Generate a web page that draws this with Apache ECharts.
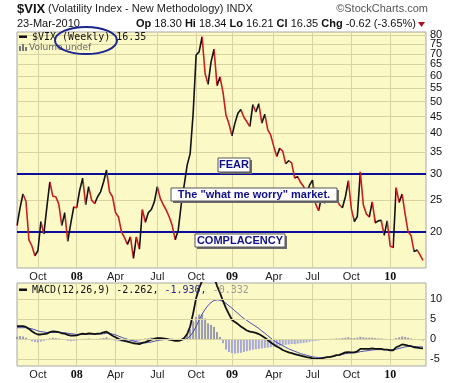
<!DOCTYPE html>
<html>
<head>
<meta charset="utf-8">
<script src="https://cdn.jsdelivr.net/npm/echarts@6/dist/echarts.min.js"></script>
<style>
html, body { margin: 0; padding: 0; background: #fff; }
#chart { width: 461px; height: 383px; }
</style>
</head>
<body>
<div id="chart"></div>
<script>
// weekly closes of $VIX, week ending 17-Aug-2007 .. 23-Mar-2010
var vixClose = [20.9,23.6,26.1,24.8,18.9,18.1,16.9,17.5,21.5,19.7,
  23.8,28.4,25.7,25.6,24.3,20.9,22.9,18.7,21.2,23.8,
  23.7,26.8,29.2,24.2,27.5,25.0,24.4,25.6,26.5,28.4,
  30.9,26.5,25.6,22.9,22.2,20.0,19.2,18.3,19.3,16.6,
  19.3,17.7,23.4,21.4,22.9,23.4,24.7,27.5,25.3,24.2,
  23.3,22.2,20.9,18.9,20.2,24.2,27.8,32.0,34.7,46.0,
  69.5,71.0,79.0,61.0,56.5,66.2,72.4,56.0,59.5,53.5,
  45.5,42.8,39.3,43.0,46.1,47.3,44.8,43.4,42.0,49.0,
  46.5,49.3,43.0,45.8,41.0,39.5,36.5,34.0,36.0,35.3,
  32.3,33.0,32.5,29.2,29.5,28.3,27.5,26.0,27.8,28.8,
  24.4,23.2,25.5,24.5,25.0,25.0,24.8,25.3,24.2,23.7,
  25.6,28.7,23.5,21.5,22.3,30.5,24.2,22.7,22.2,24.7,
  21.3,21.6,21.7,19.5,21.6,18.1,17.9,27.3,24.6,26.1,
  22.7,20.0,19.5,17.4,17.6,17.0,16.35];

// MACD(12,26,9)
var macdLine = [3.3,3.3,3.3,3.1,2.6,2.0,1.5,1.2,1.2,1.3,
  1.4,1.8,2.0,1.9,1.8,1.5,1.4,1.1,0.9,0.9,
  1.0,1.2,1.4,1.3,1.5,1.4,1.3,1.4,1.5,1.7,
  1.9,1.4,0.9,0.5,0.1,-0.2,-0.4,-0.6,-0.8,-1.0,
  -1.1,-1.2,-0.9,-0.7,-0.4,-0.1,0.1,0.3,0.3,0.2,
  0.1,-0.1,-0.2,-0.4,-0.4,-0.2,0.3,1.3,3.2,6.5,
  10.3,12.8,14.6,15.3,15.0,15.2,15.6,13.4,11.6,9.6,
  7.8,6.3,4.9,4.3,3.8,3.2,2.7,2.2,1.9,1.8,
  1.6,1.3,0.9,0.4,-0.2,-0.8,-1.3,-1.8,-2.2,-2.7,
  -3.0,-3.3,-3.5,-3.7,-3.9,-4.1,-4.3,-4.5,-4.6,-4.8,
  -4.9,-4.9,-4.8,-4.6,-4.5,-4.4,-4.2,-4.0,-3.9,-3.6,
  -3.3,-3.2,-3.3,-3.3,-3.0,-2.4,-2.4,-2.4,-2.4,-2.3,
  -2.4,-2.4,-2.4,-2.6,-2.6,-2.8,-2.8,-2.0,-1.7,-1.3,
  -1.4,-1.6,-1.7,-2.0,-2.1,-2.2,-2.26];
var signalLine = [2.9,2.9,2.9,2.9,2.8,2.6,2.4,2.1,1.9,1.8,
  1.7,1.7,1.7,1.7,1.7,1.7,1.6,1.5,1.4,1.3,
  1.2,1.2,1.2,1.2,1.3,1.3,1.3,1.3,1.3,1.4,
  1.5,1.5,1.3,1.1,0.8,0.5,0.2,0.0,-0.2,-0.4,
  -0.6,-0.8,-0.9,-0.9,-0.8,-0.7,-0.5,-0.3,-0.2,-0.1,
  0.0,0.0,0.0,-0.1,-0.2,-0.2,-0.1,0.2,0.8,1.8,
  3.2,4.8,6.3,7.5,8.5,9.2,9.7,9.9,9.8,9.5,
  9.0,8.4,7.8,7.1,6.5,5.8,5.2,4.7,4.2,3.7,
  3.2,2.7,2.1,1.5,0.9,0.3,-0.3,-0.8,-1.2,-1.6,
  -2.0,-2.4,-2.7,-3.0,-3.3,-3.6,-3.8,-4.0,-4.2,-4.4,
  -4.5,-4.6,-4.6,-4.6,-4.5,-4.4,-4.3,-4.1,-4.0,-3.8,
  -3.6,-3.5,-3.4,-3.4,-3.3,-3.1,-3.0,-2.9,-2.8,-2.7,
  -2.6,-2.6,-2.6,-2.6,-2.6,-2.6,-2.6,-2.5,-2.3,-2.1,
  -1.9,-1.8,-1.8,-1.8,-1.9,-1.9,-1.93];
var macdHist = [0.6,0.8,0.7,0.4,-0.2,-0.5,-0.7,-0.8,-0.6,-0.4,
  -0.2,0.2,0.4,0.3,0.2,0.0,-0.2,-0.4,-0.5,-0.4,
  -0.3,-0.1,0.1,0.1,0.2,0.1,0.0,0.1,0.2,0.3,
  0.5,0.2,-0.2,-0.4,-0.5,-0.6,-0.6,-0.5,-0.5,-0.6,
  -0.5,-0.4,0.0,0.2,0.3,0.4,0.4,0.5,0.4,0.2,
  0.1,-0.1,-0.2,-0.3,-0.3,-0.1,0.3,1.2,2.5,4.5,
  5.6,6.2,6.3,5.2,4.0,3.6,3.1,1.8,0.6,-1.0,
  -2.6,-3.2,-3.5,-3.6,-3.5,-3.4,-3.2,-3.0,-2.8,-2.6,
  -2.5,-2.4,-2.3,-2.2,-2.1,-2.0,-1.9,-1.8,-1.7,-1.5,
  -1.4,-1.3,-1.2,-1.2,-1.1,-1.0,-0.9,-0.8,-0.6,-0.5,
  -0.4,-0.3,-0.2,-0.1,0.0,0.1,0.1,0.2,0.2,0.3,
  0.4,0.5,0.3,0.3,0.4,0.6,0.5,0.4,0.4,0.4,
  0.3,0.2,0.2,0.1,0.0,-0.1,0.0,0.3,0.5,0.7,
  0.6,0.4,0.2,0.0,-0.1,-0.2,-0.33];

var priceTicks = [20, 25, 30, 35, 40, 45, 50, 55, 60, 65, 70, 75, 80];
var macdTicks = [10, 5, 0, -5];
var zoneLevels = [30, 20];   // fear / complacency
var quarterTicks = [
  ['2007-10-05', 'Oct'], ['2008-01-04', '08'], ['2008-04-04', 'Apr'],
  ['2008-07-11', 'Jul'], ['2008-10-10', 'Oct'], ['2009-01-02', '09'],
  ['2009-04-10', 'Apr'], ['2009-07-10', 'Jul'], ['2009-10-09', 'Oct'],
  ['2010-01-08', '10']
];

var plotBg = '#fbf9c6';
var gridColor = '#d9d3a3';
var upColor = '#111111';
var downColor = '#c81e1e';
var navy = '#10108a';

// weekly categories
var weeks = [];
var t0 = Date.UTC(2007, 7, 17);
for (var i = 0; i < vixClose.length; i++) {
  weeks.push(new Date(t0 + i * 7 * 86400000).toISOString().slice(0, 10));
}
weeks[weeks.length - 1] = '2010-03-23';
weeks.push('');

var tickMap = {};
quarterTicks.forEach(function (t) { tickMap[t[0]] = t[1]; });
function isTick(idx, val) { return tickMap[val] !== undefined; }
function tickFmt(val) {
  var s = tickMap[val];
  if (s === undefined) return '';
  return /^\d/.test(s) ? '{y|' + s + '}' : '{m|' + s + '}';
}

// up weeks black, down weeks red
var pieces = [];
for (var k = 1; k < vixClose.length; k++) {
  var c = vixClose[k] >= vixClose[k - 1] ? upColor : downColor;
  var last = pieces[pieces.length - 1];
  if (last && last.color === c) last.lte = k;
  else pieces.push(k === 1 ? { gte: 0, lte: k, color: c } : { gt: k - 1, lte: k, color: c });
}

function xAxisFor(gi) {
  return {
    type: 'category', gridIndex: gi, data: weeks, boundaryGap: false,
    axisLine: { show: false },
    axisTick: { show: false, interval: isTick },
    axisLabel: {
      interval: isTick, margin: 3, formatter: tickFmt,
      rich: {
        m: { fontFamily: 'Liberation Sans', fontSize: 11, color: '#222' },
        y: { fontFamily: 'Liberation Serif', fontWeight: 'bold', fontSize: 12, color: '#111' }
      }
    },
    splitLine: { show: true, interval: isTick, lineStyle: { color: gridColor, width: 1 } }
  };
}

function levelLines(values, style, showLabel) {
  return {
    silent: true, symbol: ['none', 'none'], animation: false,
    lineStyle: style,
    emphasis: { disabled: true },
    label: {
      show: showLabel, position: 'end', distance: 4,
      fontFamily: 'Liberation Sans', fontSize: 11, color: '#111',
      formatter: function (p) { return p.value; }
    },
    data: values.map(function (v) { return { yAxis: v }; })
  };
}

var monoFont = '10px "DejaVu Sans Mono"';

var chart = echarts.init(document.getElementById('chart'), null, { renderer: 'canvas' });
chart.setOption({
  animation: false,
  grid: [
    { left: 17, right: 35, top: 32, bottom: 115, show: true, backgroundColor: plotBg, borderColor: '#a8a8a8', borderWidth: 1 },
    { left: 17, right: 35, top: 283, bottom: 17, show: true, backgroundColor: plotBg, borderColor: '#a8a8a8', borderWidth: 1 }
  ],
  xAxis: [xAxisFor(0), xAxisFor(1)],
  yAxis: [
    { type: 'log', gridIndex: 0, min: 15.5, max: 81.7, position: 'right',
      axisLine: { show: false }, axisTick: { show: false }, axisLabel: { show: false }, splitLine: { show: false } },
    { type: 'value', gridIndex: 1, min: -6.7, max: 14.1, position: 'right',
      axisLine: { show: false }, axisTick: { show: false }, axisLabel: { show: false }, splitLine: { show: false } }
  ],
  visualMap: {
    type: 'piecewise', show: false, dimension: 0, seriesIndex: 0,
    pieces: pieces, outOfRange: { color: downColor }
  },
  series: [
    {
      name: '$VIX', type: 'line', data: vixClose, xAxisIndex: 0, yAxisIndex: 0,
      showSymbol: false, silent: true, z: 5,
      lineStyle: { width: 1.6 }
    },
    {
      type: 'line', data: [], xAxisIndex: 0, yAxisIndex: 0, z: 1,
      markLine: levelLines(priceTicks, { color: gridColor, width: 1, type: 'solid' }, true)
    },
    {
      type: 'line', data: [], xAxisIndex: 0, yAxisIndex: 0, z: 3,
      markLine: levelLines(zoneLevels, { color: '#0d0d9c', width: 2.2, type: 'solid' }, false)
    },
    {
      type: 'line', data: [], xAxisIndex: 1, yAxisIndex: 1, z: 1,
      markLine: levelLines(macdTicks, { color: gridColor, width: 1, type: 'solid' }, true)
    },
    {
      name: 'Hist', type: 'bar', data: macdHist, xAxisIndex: 1, yAxisIndex: 1,
      barWidth: 2, silent: true, z: 2,
      itemStyle: { color: function (p) { return p.value >= 0 ? '#9a9aae' : '#a7a7da'; } }
    },
    {
      name: 'Signal', type: 'line', data: signalLine, xAxisIndex: 1, yAxisIndex: 1,
      showSymbol: false, silent: true, z: 3,
      lineStyle: { color: '#4a4ab4', width: 1 }
    },
    {
      name: 'MACD', type: 'line', data: macdLine, xAxisIndex: 1, yAxisIndex: 1,
      showSymbol: false, silent: true, z: 4,
      lineStyle: { color: '#111', width: 1.8 }
    }
  ],
  graphic: [
    // header
    { type: 'text', x: 17, y: 9, style: { text: '$VIX', font: 'bold 13px "Liberation Sans"', fill: '#111', textVerticalAlign: 'middle' } },
    { type: 'text', x: 48, y: 9, style: { text: '(Volatility Index - New Methodology) INDX', font: '11px "Liberation Sans"', fill: '#222', textVerticalAlign: 'middle' } },
    { type: 'text', x: 428, y: 9, style: { text: '\u00a9StockCharts.com', font: '11px "Liberation Sans"', fill: '#555', textAlign: 'right', textVerticalAlign: 'middle' } },
    { type: 'text', x: 17, y: 24, style: { text: '23-Mar-2010', font: '11px "Liberation Sans"', fill: '#111', textVerticalAlign: 'middle' } },
    { type: 'text', x: 416, y: 24, style: {
        text: '{b|Op} 18.30 {b|Hi} 18.34 {b|Lo} 16.21 {b|Cl} 16.35 {b|Chg} -0.62 (-3.65%)',
        font: '11px "Liberation Sans"', fill: '#111', textAlign: 'right', textVerticalAlign: 'middle',
        rich: { b: { fontWeight: 'bold', fontSize: 11, fontFamily: 'Liberation Sans', fill: '#111' } }
    } },
    { type: 'polygon', shape: { points: [[418, 22], [425, 22], [421.5, 27]] }, style: { fill: '#b0101e' } },

    // price panel legend
    { type: 'rect', shape: { x: 19, y: 35.5, width: 8, height: 2.5 }, style: { fill: '#111' }, z: 10 },
    { type: 'text', x: 32, y: 37, z: 10, style: { text: '$VIX (Weekly) 16.35', font: monoFont, fill: '#111', textVerticalAlign: 'middle' } },
    { type: 'rect', shape: { x: 19, y: 46, width: 2, height: 5 }, style: { fill: '#777' }, z: 10 },
    { type: 'rect', shape: { x: 22, y: 44, width: 2, height: 7 }, style: { fill: '#777' }, z: 10 },
    { type: 'rect', shape: { x: 25, y: 47, width: 2, height: 4 }, style: { fill: '#777' }, z: 10 },
    { type: 'text', x: 29, y: 48, z: 10, style: { text: 'Volume undef', font: '9px "DejaVu Sans"', fill: '#666', textVerticalAlign: 'middle' } },
    { type: 'ellipse', shape: { cx: 86, cy: 40.5, rx: 31, ry: 13.5 }, style: { fill: 'none', stroke: '#1b2590', lineWidth: 2 }, z: 11 },

    // notes
    { type: 'rect', shape: { x: 220, y: 160, width: 32, height: 14 }, style: { fill: '#6a6a6a' }, z: 12 },
    { type: 'rect', shape: { x: 218, y: 158, width: 32, height: 14 }, style: { fill: '#fff', stroke: '#555', lineWidth: 1 }, z: 13 },
    { type: 'text', x: 234, y: 165, z: 14, style: { text: 'FEAR', font: 'bold 11px "Liberation Sans"', fill: navy, textAlign: 'center', textVerticalAlign: 'middle' } },

    { type: 'rect', shape: { x: 173, y: 190, width: 166, height: 13 }, style: { fill: '#6a6a6a' }, z: 12 },
    { type: 'rect', shape: { x: 171, y: 188, width: 166, height: 13 }, style: { fill: '#fff', stroke: '#555', lineWidth: 1 }, z: 13 },
    { type: 'text', x: 254, y: 194.5, z: 14, style: { text: 'The "what me worry" market.', font: 'bold 11px "Liberation Sans"', fill: navy, textAlign: 'center', textVerticalAlign: 'middle' } },

    { type: 'rect', shape: { x: 197, y: 236, width: 90, height: 13 }, style: { fill: '#6a6a6a' }, z: 12 },
    { type: 'rect', shape: { x: 195, y: 234, width: 90, height: 13 }, style: { fill: '#fff', stroke: '#555', lineWidth: 1 }, z: 13 },
    { type: 'text', x: 240, y: 240.5, z: 14, style: { text: 'COMPLACENCY', font: 'bold 11px "Liberation Sans"', fill: navy, textAlign: 'center', textVerticalAlign: 'middle' } },

    // MACD legend
    { type: 'rect', shape: { x: 19, y: 288.5, width: 8, height: 2.5 }, style: { fill: '#111' }, z: 10 },
    { type: 'text', x: 32, y: 290, z: 10, style: {
        text: 'MACD(12,26,9) -2.262, {s|-1.930,} {h|-0.332}',
        font: monoFont, fill: '#111', textVerticalAlign: 'middle',
        rich: {
          s: { fill: '#28288c', fontFamily: 'DejaVu Sans Mono', fontSize: 10 },
          h: { fill: '#9a9a9a', fontFamily: 'DejaVu Sans Mono', fontSize: 10 }
        }
    } }
  ]
});
</script>
</body>
</html>
